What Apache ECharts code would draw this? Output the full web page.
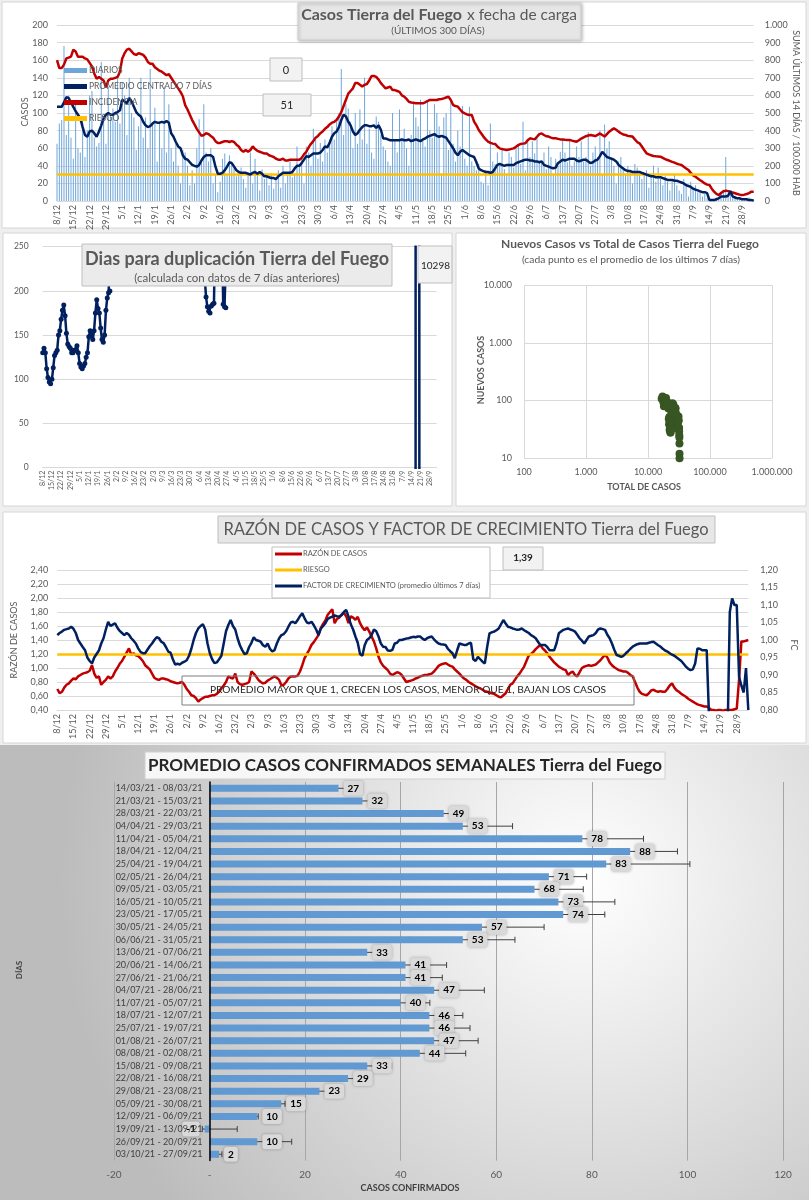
<!DOCTYPE html>
<html><head><meta charset="utf-8">
<script src="https://cdn.jsdelivr.net/npm/echarts@6/dist/echarts.min.js"></script>
<style>html,body{margin:0;padding:0;background:#fff}#c{width:809px;height:1200px}</style>
</head><body><div id="c"></div>
<script>
// ---------- DATA ----------
const START_DATE = [2020, 11, 8]; // 8/12/2020, 300 days
const NUM_DAYS = 300;

const dailyCases = [
65,88,92,176,75,120,72, 48,115,60,55,95,50,80, 120,125,72,62,66,158,95, 65,130,100,105,90,140,88,
135,120,75,140,100,95,58, 85,140,72,95,60,150,88, 106,45,90,60,130,55,110, 60,45,65,40,20,58,55,
40,18,35,20,60,93,45, 110,55,45,60,20,30,10, 22,48,54,30,52,45,38, 28,30,38,25,15,32,55,
20,48,30,12,36,25,30, 18,30,14,25,35,15,40, 20,32,45,27,30,62,40, 48,20,62,55,40,82,70,
48,66,45,70,55,70,85, 70,90,100,150,75,110,105, 90,60,100,65,104,70,140, 65,82,55,48,96,90,75,
62,58,45,40,100,70,55, 104,70,82,60,40,75,112, 95,85,115,70,62,113,80, 72,110,100,85,30,95,100,
58,113,65,45,80,62,108, 48,40,107,45,40,35,42, 22,20,35,18,88,45,42, 55,40,58,36,30,55,50,
38,60,65,42,90,35,70, 50,68,54,72,44,45,55, 36,62,50,30,48,40,56, 70,55,44,70,40,45,62,
50,68,45,50,78,40,55, 62,50,80,30,87,60,68, 48,40,20,45,50,38,30, 40,35,20,42,38,30,25,
30,35,15,28,40,22,38, 25,18,28,22,12,25,30, 18,12,8,25,20,5,22, 15,18,10,12,5,8,3,
0,2,0,4,1,8,10, 50,5,10,3,6,2,4, 3,1,2,4,0,1
];

const avg7 = [
107,107,107,112,118,117,112,107,102,98, 94,84,75,73,79,80,77,73,79,86,
94,98,100,98,98,100,101,103,115,113, 111,117,113,107,101,98,96,90,86,84,
85,88,90,89,89,90,89,91,89,77, 73,67,62,60,52,48,47,44,41,40,
39,41,46,50,52,52,52,50,39,31, 31,32,35,39,44,43,39,35,33,32,
32,32,31,30,32,33,31,33,31,28, 28,27,26,26,25,28,30,32,32,32,
32,33,37,40,40,43,47,51,50,52, 54,54,54,55,58,62,61,66,73,77,
79,84,92,98,96,90,86,79,75,77, 81,84,86,86,85,85,86,83,86,81,
71,71,70,69,69,69,69,69,
70,69,69,70,68,69,70,69,68,70, 71,73,74,75,76,74,73,74,73,72,
68,64,60,55,52,56,58,56,54,52, 51,50,44,37,35,34,33,33,32,33,
37,41,42,41,40,41,41,41,41,43, 44,45,46,47,47,46,46,45,45,44,
45,41,40,39,38,37,38,43,45,47, 46,47,48,48,48,46,45,46,47,47,
45,43,44,46,47,51,56,53,50,49, 48,47,45,41,39,37,35,34,34,33,
33,33,33,32,31,30,29,28,28,27, 27,27,26,25,24,24,24,23,23,22,
21,20,18,17,16,14,13,12,11,10, 10,9,1,1,1,2,3,5,5,5,
6,11,5,4,3,3,2,2,2,1, 1,0.5
];

const incidence = [
800,755,755,775,810,815,820,860,850,820, 820,820,810,805,785,765,725,695,705,695,
685,645,685,695,695,700,705,735,810,840, 860,865,850,835,830,840,835,830,815,790,
780,780,760,750,740,735,725,715,720,700, 680,660,640,620,595,545,520,490,460,435,
410,390,370,375,385,380,370,360,340,330, 330,335,340,340,335,340,335,320,310,290,
280,290,280,290,310,295,285,280,275,270, 270,260,255,250,240,235,235,240,230,230,
235,235,235,235,235,245,265,280,305,325, 340,360,370,385,395,410,420,435,445,450,
460,480,505,540,575,610,625,640,670,670, 660,650,660,665,685,710,710,705,690,670,
655,640,645,650,630,630,625,620,
600,593,580,564,560,558,555,555,555,555, 560,568,574,574,574,574,578,580,583,588,
593,574,545,540,536,520,505,498,492,489, 489,451,430,403,385,366,350,337,330,326,
324,310,299,295,292,290,292,296,299,308, 318,324,326,328,345,356,353,350,365,380,
384,375,368,366,360,356,356,353,350,350, 348,347,347,343,340,337,345,355,362,368,
372,375,372,369,376,384,375,366,380,394, 404,413,405,394,385,378,375,370,368,366,
350,335,328,310,290,271,265,260,256,254, 253,252,245,238,233,228,222,218,212,208,
205,195,185,176,160,145,138,128,118,110, 100,93,91,70,53,40,34,45,55,59,
56,53,48,44,40,36,34,36,40,45, 53,53
];

const RISK_CASES = 30;      // left axis
const RISK_RATIO = 1.2;     // razón de casos

// Días para duplicación: runs of [firstDay, values]; other days have no visible value
const doublingRuns = [
  [0, [130,135,130,112,102,97,95,100,113,127, 130,133,150,155,168,178,184,172,152,140,
       137,135,130,130,133,133,138,130,118,114, 112,115,118,125,130,148,155,150,145,155,
       175,190,180,175,158,145,142,150,178,192, 198,200,260]],
  [122, [300,215,193,182,177,175,183,185,186,280]],
  [136, [280,185,182,181,280]],
  [283, [-500,10298,10298,-500]]
];

const scatterTotal = [16600,17150,17650,18050,18500,18990,19530,20060,20490,20930,21340,21630,21850,22090,
  22300,22490,22670,22830,22980,23120,23280,23460,23720,24000,24360,24840,25240,25670,26080,26430,26780,
  27130,27490,27860,28200,28480,28700,28870,29060,29270,29490,29720,29930,30130,30360,30590,30820,31070,
  31300,31480,31650,31800,31940,32060,32160,32230,32270];
const scatterNew = [107,117,94,80,94,100,111,98,85,90,73,48,39,52,31,43,32,33,28,28,32,43,54,62,79,90,81,85,
  71,69,69,69,74,73,60,56,40,33,41,41,46,46,40,42,47,46,45,53,45,34,33,29,25,23,18,12,10];

const caseRatio = [
0.70,0.64,0.66,0.72,0.76,0.78,0.82,0.85,0.84,0.88, 0.90,0.92,0.93,0.94,0.96,1.04,0.92,0.86,0.88,0.76,
0.80,0.83,0.88,0.85,0.88,0.95,1.00,1.06,1.10,1.16, 1.22,1.28,1.19,1.21,1.18,1.17,1.14,1.10,1.04,1.01,
0.98,0.92,0.86,0.84,0.83,0.85,0.85,0.84,0.83,0.81, 0.80,0.79,0.78,0.79,0.80,0.76,0.70,0.66,0.61,0.60,
0.57,0.52,0.55,0.57,0.59,0.59,0.60,0.61,0.61,0.63, 0.66,0.71,0.75,0.80,0.88,0.86,0.85,0.92,0.80,0.77,
0.76,0.77,0.78,0.80,0.95,0.92,0.88,0.83,0.80,0.78, 0.79,0.82,0.84,0.86,0.88,0.86,0.83,0.75,0.76,0.80,
0.85,0.88,0.88,0.88,0.89,0.95,1.04,1.14,1.20,1.26, 1.33,1.37,1.42,1.47,1.57,1.63,1.68,1.76,1.80,1.84,
1.64,1.70,1.72,1.76,1.79,1.74,1.64,1.74,1.72,1.69, 1.73,1.64,1.58,1.54,1.58,1.52,1.45,1.38,1.28,1.16,
1.08,1.03,1.00,0.97,0.92,0.90,0.92,0.94,0.93,0.90, 0.85,0.80,0.81,0.82,0.83,0.85,0.86,0.88,0.89,0.90,
0.90,0.91,0.92,0.95,0.99,1.03,1.05,1.06,1.07,1.05, 1.03,1.02,0.98,0.95,0.92,0.88,0.85,0.83,0.80,0.78,
0.76,0.74,0.72,0.71,0.69,0.67,0.66,0.65,0.64,0.63, 0.61,0.59,0.58,0.61,0.64,0.70,0.76,0.78,0.83,0.88,
0.92,0.97,1.02,1.10,1.18,1.20,1.23,1.27,1.30,1.33, 1.28,1.25,1.21,1.16,1.12,1.08,1.05,1.02,1.00,0.98,
0.97,0.90,0.93,0.95,0.90,0.88,0.94,1.00,1.02,1.03, 1.04,1.03,1.04,1.05,1.08,1.11,1.15,1.19,1.15,1.08,
1.04,1.01,0.99,0.97,0.96,0.95,0.95,0.93,0.90,0.88, 0.80,0.72,0.66,0.63,0.62,0.61,0.64,0.68,0.69,0.67,
0.66,0.67,0.66,0.66,0.70,0.75,0.78,0.72,0.68,0.66, 0.63,0.61,0.59,0.56,0.54,0.52,0.50,0.48,0.47,0.46,
0.45,0.45,0.43,0.40,0.40,0.39,0.40,0.40,0.39,0.40, 0.40,0.40,0.40,0.41,0.42,0.83,1.38,1.38,1.39,1.40
];

const growthFactor = [
1.014,1.020,1.024,1.029,1.031,1.033,1.038,1.032,1.020,1.000, 0.990,0.980,0.971,0.950,0.940,0.933,0.950,0.960,0.970,0.990,
1.005,1.030,1.052,1.040,1.044,1.048,1.035,1.026,1.020,1.014, 1.020,1.015,1.005,0.998,0.990,0.976,0.966,0.962,0.962,0.972,
0.982,0.990,1.000,1.008,1.005,0.995,0.991,0.980,0.967,0.964, 0.945,0.930,0.932,0.930,0.935,0.938,0.942,0.955,0.975,1.000,
1.020,1.033,1.040,1.045,1.030,0.990,0.962,0.945,0.934,0.936, 0.945,0.955,0.990,1.025,1.043,1.057,1.040,1.030,1.005,0.985,
0.971,0.960,0.962,0.980,0.992,1.008,1.000,0.998,0.995,0.985, 0.981,0.990,0.975,0.967,0.971,0.990,1.005,1.014,1.017,1.025,
1.038,1.050,1.052,1.048,1.057,1.068,1.076,1.062,1.050,1.048, 1.052,1.042,1.030,1.014,1.032,1.040,1.048,1.060,1.064,1.067,
1.070,1.068,1.067,1.071,1.080,1.086,1.067,1.045,1.030,1.010, 0.992,0.960,0.955,0.985,1.000,1.005,1.014,1.030,1.025,1.010,
0.990,0.981,0.980,0.970,0.969,0.972,0.990,0.992,1.000,1.000, 1.002,1.004,1.005,1.007,1.009,1.008,1.010,1.010,1.004,1.000,
1.005,1.008,1.010,1.002,0.995,0.990,0.988,0.987,0.986,0.975, 0.968,0.962,0.948,0.970,0.990,0.988,0.986,0.986,0.990,0.992,
0.945,0.940,0.952,0.945,0.938,0.933,0.980,1.019,1.022,1.024, 1.028,1.033,1.045,1.057,1.047,1.038,1.036,1.033,1.031,1.029,
1.030,1.033,1.028,1.024,1.020,1.014,1.010,1.005,0.995,0.986, 0.986,0.986,0.980,0.971,0.971,0.971,0.990,1.019,1.024,1.029,
1.031,1.033,1.030,1.028,1.024,1.015,1.005,0.998,0.990,1.000, 1.010,1.012,1.014,1.020,1.030,1.033,1.031,1.029,1.015,1.005,
0.990,0.972,0.957,0.955,0.952,0.955,0.962,0.968,0.975,0.981, 0.985,0.988,0.990,0.990,0.990,0.990,0.992,0.994,0.995,0.990,
0.985,0.981,0.975,0.970,0.967,0.962,0.958,0.955,0.950,0.945, 0.940,0.932,0.924,0.918,0.914,0.916,0.933,0.976,0.975,0.971,
0.971,0.971,0.780,0.700,0.700,0.700,0.700,0.700,0.700,0.700, 0.720,1.080,1.119,1.100,1.100,0.895,0.870,0.850,0.920,0.800
];

const weekLabels = ['14/03/21 - 08/03/21','21/03/21 - 15/03/21','28/03/21 - 22/03/21','04/04/21 - 29/03/21',
'11/04/21 - 05/04/21','18/04/21 - 12/04/21','25/04/21 - 19/04/21','02/05/21 - 26/04/21','09/05/21 - 03/05/21',
'16/05/21 - 10/05/21','23/05/21 - 17/05/21','30/05/21 - 24/05/21','06/06/21 - 31/05/21','13/06/21 - 07/06/21',
'20/06/21 - 14/06/21','27/06/21 - 21/06/21','04/07/21 - 28/06/21','11/07/21 - 05/07/21','18/07/21 - 12/07/21',
'25/07/21 - 19/07/21','01/08/21 - 26/07/21','08/08/21 - 02/08/21','15/08/21 - 09/08/21','22/08/21 - 16/08/21',
'29/08/21 - 23/08/21','05/09/21 - 30/08/21','12/09/21 - 06/09/21','19/09/21 - 13/09/21','26/09/21 - 20/09/21',
'03/10/21 - 27/09/21'];
const weekAvg  = [27,32,49,53,78,88,83,71,68,73,74,57,53,33,41,41,47,40,46,46,47,44,33,29,23,15,10,-1,10,2];
const weekLow  = [23,28,44.7,43.9,65.1,77.9,66.4,62.9,58.7,62,66.2,44.2,41.6,30.3,32.3,33.2,36.9,34.1,39.3,37.9,39.2,35.5,27.3,24.9,20,11.6,7.3,-1.5,3.9,1.4];
const weekHigh = [31,36,53.3,63.4,90.8,97.9,100.5,78.9,78.2,84.8,82.7,70,63.9,35.7,49.6,48.7,57.5,46.1,53,54.5,56.2,53.6,38.1,33,26,15.8,10.2,5.8,17.2,2.6];

// ---------- BUILD ----------
const days = [];
for (let i = 0; i < NUM_DAYS; i++) {
  const d = new Date(START_DATE[0], START_DATE[1], START_DATE[2] + i);
  days.push(d.getDate() + '/' + (d.getMonth() + 1));
}
const doubling = new Array(NUM_DAYS).fill(null);
doublingRuns.forEach(([s, vals]) => vals.forEach((v, k) => { doubling[s + k] = v; }));
const scatterData = scatterTotal.map((t, i) => [t, scatterNew[i]]);

const FONT = 'Lato';
const GRAY = '#595959';
const fmtDots = v => String(Math.round(v)).replace(/\B(?=(\d{3})+(?!\d))/g, '.');
const fmtComma = v => Number(v).toFixed(2).replace('.', ',');

function rect(x, y, w, h, fill, stroke, z, extra) {
  return Object.assign({ type: 'rect', z: z, shape: { x: x, y: y, width: w, height: h },
    style: Object.assign({ fill: fill, stroke: stroke || null, lineWidth: 1 }, extra || {}) });
}
function text(x, y, t, size, opts) {
  opts = opts || {};
  return { type: 'text', x: x, y: y, z: opts.z || 60, rotation: opts.rot || 0,
    style: { text: t, fill: opts.color || GRAY, font: (opts.weight || 'normal') + ' ' + size + 'px ' + FONT,
      align: opts.align || 'center', verticalAlign: 'middle' } };
}
const shadow = { shadowBlur: 3, shadowColor: 'rgba(0,0,0,0.25)', shadowOffsetX: 1, shadowOffsetY: 1 };

const graphics = [
  // panel backgrounds
  rect(2, 2, 804, 226, '#ffffff', '#d6d6d6', -10),
  rect(3, 233, 449, 273, '#ffffff', '#d6d6d6', -10),
  rect(456, 233, 350, 273, '#ffffff', '#d6d6d6', -10),
  rect(3, 512, 803, 231, '#ffffff', '#d6d6d6', -10),
  { type: 'rect', z: -10, shape: { x: 0, y: 745, width: 809, height: 455 },
    style: { fill: { type: 'radial', x: 0.72, y: 0.3, r: 1.15, colorStops: [
      { offset: 0, color: '#ffffff' }, { offset: 1, color: '#bcbcbc' }] } } },

  // top chart
  rect(298, 3, 283, 37, '#e6e6e6', '#d0d0d0', 50, shadow),
  text(462, 15, 'Casos Tierra del Fuego', 16, { weight: 'bold', align: 'right', color: '#595959' }),
  text(467, 15, 'x fecha de carga', 15.5, { align: 'left', color: '#595959' }),
  text(438, 31, '(ÚLTIMOS 300 DÍAS)', 10, { color: '#595959' }),
  rect(270, 58, 32, 23, '#f2f2f2', '#bfbfbf', 50),
  text(286, 70, '0', 11, { color: '#262626' }),
  rect(263, 94, 48, 22, '#f2f2f2', '#bfbfbf', 50),
  text(287, 105, '51', 11, { color: '#262626' }),
  text(25, 112, 'CASOS', 9, { rot: Math.PI / 2 }),
  text(796, 113, 'SUMA ÚLTIMOS 14 DÍAS / 100.000 HAB', 9, { rot: -Math.PI / 2 }),

  // duplication chart
  rect(82, 244, 310, 42, '#ebebeb', '#bfbfbf', 50),
  text(237, 259, 'Dias para duplicación Tierra del Fuego', 18, { weight: 'bold' }),
  text(237, 278, '(calculada con datos de 7 días anteriores)', 11.5),
  rect(418, 246, 34, 37, '#f2f2f2', '#bfbfbf', 50),
  text(421, 266, '10298', 10, { align: 'left', color: '#262626' }),

  // scatter
  text(630, 244, 'Nuevos Casos vs Total de Casos Tierra del Fuego', 12, { weight: 'bold' }),
  text(631, 260, '(cada punto es el promedio de los últimos 7 días)', 10.3),
  text(481, 370, 'NUEVOS CASOS', 9, { weight: 'bold', rot: Math.PI / 2 }),
  text(644, 487, 'TOTAL DE CASOS', 9, { weight: 'bold' }),

  // ratio chart
  rect(218, 516, 497, 27, '#e7e7e7', '#bfbfbf', 50),
  text(466, 530, 'RAZÓN DE CASOS Y FACTOR DE CRECIMIENTO Tierra del Fuego', 16.5),
  rect(272, 547, 218, 51, '#ffffff', '#bfbfbf', 40),
  rect(503, 547, 40, 23, '#f2f2f2', '#bfbfbf', 50),
  text(523, 558, '1,39', 10, { weight: 'bold', color: '#262626' }),
  text(14, 640, 'RAZÓN DE CASOS', 9, { rot: Math.PI / 2 }),
  text(794, 645, 'FC', 9, { rot: -Math.PI / 2 }),
  rect(182, 676, 452, 29, 'rgba(0,0,0,0)', '#7f7f7f', 50),
  text(408, 690, 'PROMEDIO MAYOR QUE 1, CRECEN LOS CASOS, MENOR QUE 1, BAJAN LOS CASOS', 10.2, { color: '#262626' }),

  // weekly bars chart
  rect(145, 752, 520, 27, '#f7f7f7', '#d0d0d0', 50),
  text(405, 766, 'PROMEDIO CASOS CONFIRMADOS SEMANALES Tierra del Fuego', 17, { weight: 'bold', color: '#262626' }),
  text(19, 970, 'DÍAS', 8, { weight: 'bold', rot: Math.PI / 2, color: '#404040' }),
  text(410, 1188, 'CASOS CONFIRMADOS', 9, { weight: 'bold', color: '#404040' })
];

const catX = (gi, fs, mg) => ({
  type: 'category', gridIndex: gi, data: days, boundaryGap: false,
  axisLine: { lineStyle: { color: '#d9d9d9' } }, axisTick: { show: false },
  axisLabel: { interval: 6, rotate: 90, fontSize: fs, color: GRAY, margin: mg, fontFamily: FONT },
  splitLine: { show: false }
});
const valY = (gi, min, max, interval, extra) => Object.assign({
  type: 'value', gridIndex: gi, min: min, max: max, interval: interval,
  axisLine: { show: false }, axisTick: { show: false },
  axisLabel: { fontSize: 9, color: GRAY, fontFamily: FONT },
  splitLine: { lineStyle: { color: '#d9d9d9' } }
}, extra || {});

const W_GRID_LEFT = 113.9, W_ZERO_X = 209.5;

const option = {
  animation: false,
  backgroundColor: '#efefef',
  textStyle: { fontFamily: FONT },
  graphic: { elements: graphics },
  grid: [
    { left: 57, top: 25, width: 696.7, height: 176, containLabel: false },
    { left: 42.7, top: 246.7, width: 393.9, height: 221, containLabel: false },
    { left: 524, top: 285, width: 248, height: 173.3, containLabel: false },
    { left: 57.3, top: 570, width: 691, height: 140, containLabel: false },
    { left: W_GRID_LEFT, top: 782, width: 669.2, height: 378.6, containLabel: false }
  ],
  legend: [
    { data: ['DIARIOS', 'PROMEDIO CENTRADO 7 DÍAS', 'INCIDENCIA', 'RIESGO'],
      orient: 'vertical', left: 64, top: 66, itemWidth: 23, itemHeight: 5, itemGap: 7, padding: 0,
      icon: 'rect', selectedMode: false, z: 20,
      textStyle: { fontSize: 8.5, color: GRAY, fontFamily: FONT, padding: [0, 0, 0, -3] } },
    { data: ['RAZÓN DE CASOS', 'RIESGO', 'FACTOR DE CRECIMIENTO (promedio últimos 7 días)'],
      orient: 'vertical', left: 275, top: 550, itemWidth: 27, itemHeight: 3, itemGap: 8, padding: 0,
      icon: 'rect', selectedMode: false, z: 45,
      textStyle: { fontSize: 7.5, color: GRAY, fontFamily: FONT, padding: [0, 0, 0, -4] } }
  ],
  xAxis: [
    catX(0, 9, 4),
    catX(1, 7, 3),
    { type: 'log', gridIndex: 2, min: 100, max: 1000000, logBase: 10,
      axisLine: { show: false }, axisTick: { show: false },
      axisLabel: { formatter: fmtDots, fontSize: 9, color: GRAY, margin: 9 },
      splitLine: { show: true, lineStyle: { color: '#d9d9d9' } } },
    catX(3, 9, 4),
    { type: 'value', gridIndex: 4, min: -20, max: 120, interval: 20,
      axisLine: { show: false }, axisTick: { show: false },
      axisLabel: { formatter: v => (v === 0 ? '-' : String(v)), fontSize: 10, color: GRAY, margin: 9 },
      splitLine: { lineStyle: { color: '#a6a6a6', width: 1 } } }
  ],
  yAxis: [
    valY(0, 0, 200, 20, { axisLabel: { fontSize: 9, color: GRAY, margin: 9 } }),
    valY(0, 0, 1000, 100, { position: 'right', splitLine: { show: false },
      axisLabel: { fontSize: 9, color: GRAY, margin: 11, formatter: fmtDots } }),
    valY(1, 0, 250, 50, { axisLabel: { fontSize: 8.5, color: GRAY, margin: 14 } }),
    { type: 'log', gridIndex: 2, min: 10, max: 10000, logBase: 10,
      axisLine: { show: false }, axisTick: { show: false },
      axisLabel: { formatter: fmtDots, fontSize: 9, color: GRAY, margin: 12 },
      splitLine: { show: true, lineStyle: { color: '#d9d9d9' } } },
    valY(3, 0.4, 2.4, 0.2, { axisLabel: { fontSize: 9, color: GRAY, margin: 9, formatter: fmtComma } }),
    valY(3, 0.8, 1.2, 0.05, { position: 'right', splitLine: { show: false },
      axisLabel: { fontSize: 9, color: GRAY, margin: 12, formatter: fmtComma } }),
    { type: 'category', gridIndex: 4, data: weekLabels, inverse: true, position: 'left',
      offset: -(W_ZERO_X - W_GRID_LEFT), z: 6,
      axisLine: { onZero: false, lineStyle: { color: '#000000', width: 1.5 } },
      axisTick: { show: false },
      axisLabel: { interval: 0, fontSize: 9, color: '#404040', margin: 7, fontFamily: FONT } }
  ],
  series: [
    { name: 'DIARIOS', type: 'bar', xAxisIndex: 0, yAxisIndex: 0, data: dailyCases,
      barWidth: 1, color: '#6ea6dc', itemStyle: { color: '#6ea6dc' }, z: 2 },
    { name: 'RIESGO', type: 'line', xAxisIndex: 0, yAxisIndex: 0, data: [], color: '#ffc000',
      itemStyle: { color: '#ffc000' }, z: 3,
      markLine: { silent: true, symbol: 'none', label: { show: false },
        lineStyle: { color: '#ffc000', width: 2.5, type: 'solid' }, data: [{ yAxis: RISK_CASES }] } },
    { name: 'INCIDENCIA', type: 'line', xAxisIndex: 0, yAxisIndex: 1, data: incidence,
      showSymbol: false, color: '#c00000', itemStyle: { color: '#c00000' },
      lineStyle: { color: '#c00000', width: 2.5 }, z: 4 },
    { name: 'PROMEDIO CENTRADO 7 DÍAS', type: 'line', xAxisIndex: 0, yAxisIndex: 0, data: avg7,
      showSymbol: false, color: '#002060', itemStyle: { color: '#002060' },
      lineStyle: { color: '#002060', width: 2.5 }, z: 5 },

    { name: 'Dias duplicación', type: 'line', xAxisIndex: 1, yAxisIndex: 2, data: doubling,
      symbol: 'circle', symbolSize: 5, showAllSymbol: true, clip: true,
      itemStyle: { color: '#002060' }, lineStyle: { color: '#002060', width: 2.5 }, z: 5 },

    { name: 'Nuevos vs Total', type: 'scatter', xAxisIndex: 2, yAxisIndex: 3, data: scatterData,
      symbolSize: 8, clip: true, itemStyle: { color: '#375623', opacity: 1 }, z: 5 },

    { name: 'RAZÓN DE CASOS', type: 'line', xAxisIndex: 3, yAxisIndex: 4, data: caseRatio,
      showSymbol: false, clip: true, color: '#c00000', itemStyle: { color: '#c00000' },
      lineStyle: { color: '#c00000', width: 2.5 }, z: 4 },
    { name: 'RIESGO', type: 'line', xAxisIndex: 3, yAxisIndex: 4, data: [], color: '#ffc000',
      itemStyle: { color: '#ffc000' }, z: 3,
      markLine: { silent: true, symbol: 'none', label: { show: false },
        lineStyle: { color: '#ffc000', width: 2.5, type: 'solid' }, data: [{ yAxis: RISK_RATIO }] } },
    { name: 'FACTOR DE CRECIMIENTO (promedio últimos 7 días)', type: 'line', xAxisIndex: 3, yAxisIndex: 5,
      data: growthFactor, showSymbol: false, clip: true, color: '#002060', itemStyle: { color: '#002060' },
      lineStyle: { color: '#002060', width: 2.5 }, z: 5 },

    { name: 'Promedio semanal', type: 'bar', xAxisIndex: 4, yAxisIndex: 6,
      data: weekAvg.map(v => (v < 0 ? { value: v, label: { position: 'left' } } : v)),
      barWidth: 7, itemStyle: { color: '#6199d3' }, z: 2,
      label: { show: true, position: 'right', distance: 5, fontWeight: 'bold', fontSize: 10, color: '#000',
        fontFamily: FONT, backgroundColor: '#d9d9d9', borderRadius: 3, padding: [3, 4, 2, 4],
        shadowColor: 'rgba(0,0,0,0.3)', shadowBlur: 3 } },
    { name: 'Error', type: 'custom', xAxisIndex: 4, yAxisIndex: 6, z: 2,
      data: weekLow.map((lo, i) => [lo, weekHigh[i], i]),
      encode: { x: [0, 1], y: 2 },
      renderItem: function (params, api) {
        const idx = api.value(2);
        const a = api.coord([api.value(0), idx]);
        const b = api.coord([api.value(1), idx]);
        const st = { stroke: '#404040', lineWidth: 1 };
        return { type: 'group', children: [
          { type: 'line', shape: { x1: a[0], y1: a[1], x2: b[0], y2: b[1] }, style: st },
          { type: 'line', shape: { x1: a[0], y1: a[1] - 3, x2: a[0], y2: a[1] + 3 }, style: st },
          { type: 'line', shape: { x1: b[0], y1: b[1] - 3, x2: b[0], y2: b[1] + 3 }, style: st }
        ] };
      } }
  ]
};

const chart = echarts.init(document.getElementById('c'), null, { renderer: 'canvas', width: 809, height: 1200 });
chart.setOption(option);
</script>
</body></html>
